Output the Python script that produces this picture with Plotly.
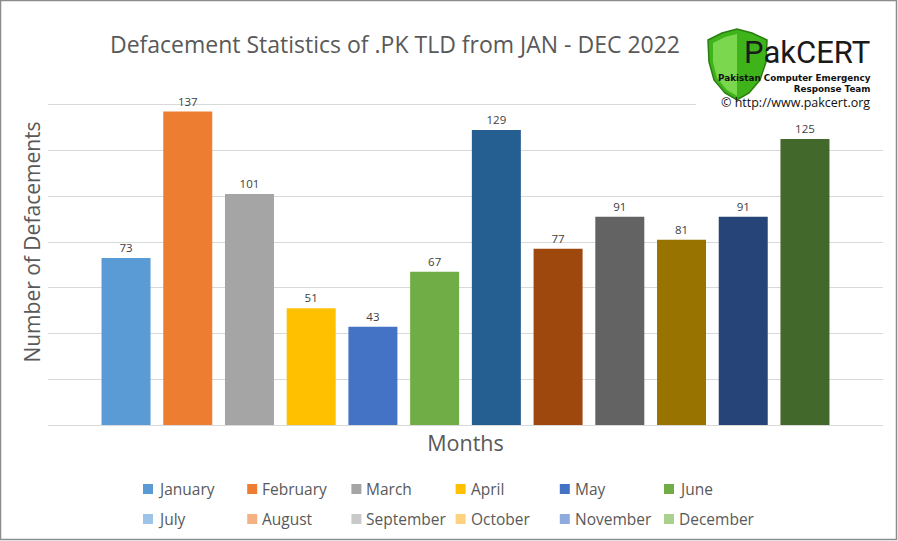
import plotly.graph_objects as go

months = ["January", "February", "March", "April", "May", "June",
          "July", "August", "September", "October", "November", "December"]
values = [73, 137, 101, 51, 43, 67, 129, 77, 91, 81, 91, 125]
bar_colors = ["#5b9bd5", "#ed7d31", "#a5a5a5", "#ffc000", "#4472c4", "#70ad47",
              "#255e91", "#9e480e", "#636363", "#997300", "#264478", "#43682b"]
legend_colors = ["#5b9bd5", "#ed7d31", "#a5a5a5", "#ffc000", "#4472c4", "#70ad47",
                 "#9dc3e6", "#f4b183", "#c9c9c9", "#ffd27f", "#8faadc", "#a9d18e"]
category = [""]
y_ticks = [0, 20, 40, 60, 80, 100, 120, 140, 160]

W, H = 898, 541
L, R, T, B = 48, 15, 59, 116
PW, PH = W - L - R, H - T - B


def px(x):
    return (x - L) / PW


def py(y):
    return (H - B - y) / PH


fig = go.Figure()
for m, v, c in zip(months, values, bar_colors):
    fig.add_trace(go.Bar(
        x=category, y=[v], name=m, marker=dict(color=c, line=dict(width=0)),
        text=[str(v)], textposition="outside", cliponaxis=False,
        textfont=dict(size=11.5, color="#404040", family="Open Sans"),
        showlegend=False, hoverinfo="skip"))

shapes = []
annotations = []

# legend (two rows of six), drawn as squares and labels
LEG_X0, LEG_DX, LEG_ROWS_Y = 143, 104.2, (489, 519)
for i, (m, c) in enumerate(zip(months, legend_colors)):
    row, col = divmod(i, 6)
    sx = LEG_X0 + col * LEG_DX
    sy = LEG_ROWS_Y[row]
    shapes.append(dict(type="rect", xref="paper", yref="paper",
                       x0=px(sx), x1=px(sx + 10), y0=py(sy + 5), y1=py(sy - 5),
                       fillcolor=c, line=dict(width=0)))
    annotations.append(dict(text=m, x=px(sx + 13), y=py(sy), xref="paper", yref="paper",
                            xanchor="left", yanchor="middle", showarrow=False,
                            font=dict(size=15.5, color="#595959", family="Open Sans")))

# white backdrop for the logo
shapes.append(dict(type="rect", xref="paper", yref="paper",
                   x0=px(696), x1=px(884), y0=py(112), y1=py(18),
                   fillcolor="white", line=dict(width=0), layer="above"))
# shield
pts = [(708, 40), (722, 33), (737, 29), (752, 33), (767, 40), (766, 62),
       (760, 80), (749, 93), (737, 100), (725, 93), (714, 80), (709, 62)]
path = "M " + " L ".join(f"{px(a):.5f},{py(b):.5f}" for a, b in pts) + " Z"
shapes.append(dict(type="path", xref="paper", yref="paper", path=path,
                   fillcolor="#3fb41a", line=dict(color="#2a7d10", width=1.5), layer="above"))
pts2 = [(713, 43), (725, 37), (737, 34), (737, 96), (727, 90), (717, 78), (713, 62)]
path2 = "M " + " L ".join(f"{px(a):.5f},{py(b):.5f}" for a, b in pts2) + " Z"
shapes.append(dict(type="path", xref="paper", yref="paper", path=path2,
                   fillcolor="#8be05a", line=dict(width=0), layer="above", opacity=0.8))
# outer border
shapes.append(dict(type="rect", xref="paper", yref="paper",
                   x0=px(0.5), x1=px(896.5), y0=py(539.5), y1=py(0.5),
                   line=dict(color="#8c8c8c", width=1.5), fillcolor="rgba(0,0,0,0)", layer="above"))

annotations += [
    dict(text="PakCERT", x=px(871), y=py(53), xref="paper", yref="paper",
         xanchor="right", yanchor="middle", showarrow=False, borderpad=0,
         font=dict(size=31, color="#1a1a1a", family="Roboto")),
    dict(text="<b>Pakistan Computer Emergency</b><br><b>Response Team</b>",
         x=px(872), y=py(83.5), xref="paper", yref="paper", align="right",
         xanchor="right", yanchor="middle", showarrow=False, borderpad=0,
         font=dict(size=8.8, color="#111111", family="DejaVu Sans")),
    dict(text="© http://www.pakcert.org", x=px(871), y=py(102), xref="paper", yref="paper",
         xanchor="right", yanchor="middle", showarrow=False, borderpad=0,
         font=dict(size=12.5, color="#111111", family="Open Sans")),
]

fig.update_layout(
    width=W, height=H,
    margin=dict(l=L, r=R, t=T, b=B, autoexpand=False),
    paper_bgcolor="white", plot_bgcolor="white",
    barmode="group", bargap=0.113, bargroupgap=0.206,
    showlegend=False,
    title=dict(text="Defacement Statistics of .PK TLD from JAN - DEC 2022",
               x=395 / W, xref="container", xanchor="center",
               y=1 - 45 / H, yref="container", yanchor="middle",
               font=dict(size=23, color="#595959", family="Open Sans")),
    xaxis=dict(showticklabels=False, ticks="", showgrid=False, showline=True,
               linecolor="#d9d9d9", linewidth=1,
               title=dict(text="Months", standoff=10,
                          font=dict(size=21.5, color="#595959", family="Open Sans"))),
    yaxis=dict(range=[0, 160], tickvals=y_ticks, showticklabels=False, ticks="",
               showgrid=True, gridcolor="#d9d9d9", gridwidth=1, zeroline=False,
               title=dict(text="Number of Defacements", standoff=0,
                          font=dict(size=21, color="#595959", family="Open Sans"))),
    shapes=shapes, annotations=annotations,
)

fig.write_html("out.html")
